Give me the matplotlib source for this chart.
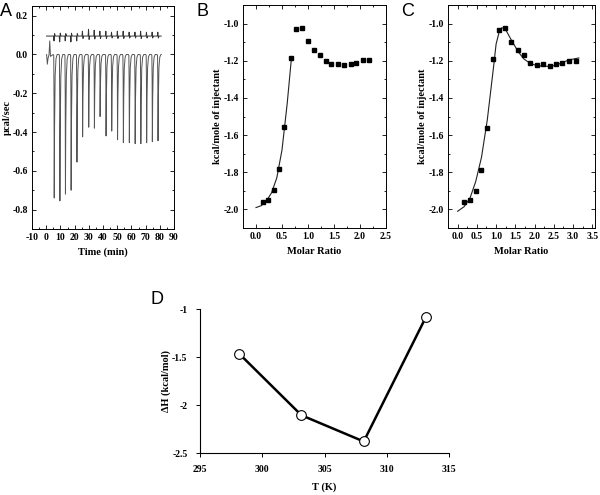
import numpy as np
import matplotlib
matplotlib.use("Agg")
import matplotlib.pyplot as plt
from matplotlib.ticker import MultipleLocator, FormatStrFormatter

plt.rcParams['font.family'] = ['Liberation Serif', 'DejaVu Serif']
plt.rcParams['font.weight'] = 'bold'
plt.rcParams['axes.labelweight'] = 'bold'
plt.rcParams['axes.unicode_minus'] = False

# ---- Panel A: raw thermogram (injection times, peak heights) ----
inj_times = [5.5, 9.5, 13.4, 17.4, 21.5, 25.5, 29.8, 33.8, 37.8, 42.0,
             46.0, 50.1, 54.2, 58.4, 62.5, 66.5, 70.6, 74.6, 78.6]
inj_depth = [-0.74, -0.755, -0.72, -0.70, -0.555, -0.425, -0.375, -0.38, -0.32, -0.42,
             -0.395, -0.44, -0.455, -0.455, -0.46, -0.46, -0.455, -0.45, -0.445]
ref_dev = [-0.025, -0.03, -0.025, -0.03, -0.025, 0.025, 0.035, 0.03, 0.025, 0.025,
           0.02, 0.025, 0.025, 0.02, 0.02, 0.025, 0.02, 0.02, 0.02]
ref_base = 0.095

# ---- Panel B ----
b_ratio = [0.13, 0.23, 0.34, 0.44, 0.54, 0.68, 0.77, 0.88, 1.00, 1.12,
           1.23, 1.34, 1.45, 1.58, 1.69, 1.82, 1.93, 2.06, 2.18]
b_heat = [-1.962, -1.950, -1.897, -1.783, -1.559, -1.186, -1.029, -1.022, -1.094, -1.141,
          -1.168, -1.204, -1.219, -1.217, -1.224, -1.217, -1.210, -1.197, -1.197]
b_fit_x = [0.0, 0.1, 0.2, 0.3, 0.4, 0.5, 0.6, 0.68]
b_fit_y = [-1.99, -1.98, -1.955, -1.91, -1.83, -1.68, -1.43, -1.19]

# ---- Panel C ----
c_ratio = [0.17, 0.32, 0.47, 0.62, 0.77, 0.93, 1.08, 1.24, 1.40, 1.57,
           1.72, 1.89, 2.05, 2.22, 2.39, 2.55, 2.72, 2.90, 3.08]
c_heat = [-1.962, -1.950, -1.899, -1.786, -1.563, -1.190, -1.034, -1.025, -1.097, -1.140,
          -1.170, -1.210, -1.222, -1.220, -1.227, -1.220, -1.214, -1.200, -1.200]
c_fit_x = [0.0, 0.17, 0.32, 0.47, 0.62, 0.77, 0.93, 1.00, 1.08, 1.15, 1.24, 1.40, 1.57,
           1.72, 1.89, 2.05, 2.22, 2.39, 2.55, 2.72, 2.90, 3.15]
c_fit_y = [-2.01, -1.985, -1.94, -1.85, -1.72, -1.52, -1.24, -1.11, -1.045, -1.022, -1.03,
           -1.09, -1.15, -1.19, -1.215, -1.225, -1.23, -1.23, -1.225, -1.21, -1.195, -1.185]

# ---- Panel D ----
temps = [298.15, 303.15, 308.15, 313.15]
dH = [-1.466, -2.107, -2.38, -1.083]

fig = plt.figure(figsize=(6, 4.95), dpi=100)
W, H = 600, 495


def add_ax(l, t, r, b):
    return fig.add_axes([l / W, 1 - b / H, (r - l) / W, (b - t) / H])


def bold_ticks(ax):
    for lab in ax.get_xticklabels() + ax.get_yticklabels():
        lab.set_fontweight('bold')


def style_box(ax):
    ax.tick_params(which='both', direction='in', top=True, right=True,
                   labelsize=7, width=0.6, pad=3)
    ax.tick_params(which='major', length=3)
    ax.tick_params(which='minor', length=1.5)
    for s in ax.spines.values():
        s.set_linewidth(0.7)


# A
axA = add_ax(32, 6, 174, 229)
tA, yA = [0.3, 0.8, 1.3, 2.0, 2.5, 3.0], [0.0, -0.05, -0.02, 0.0, 0.07, -0.01]
tR, yR = [0.2], [ref_base]
for t, d, dv in zip(inj_times, inj_depth, ref_dev):
    tA += [t - 0.6, t - 0.2, t, t + 0.15, t + 0.4, t + 0.8, t + 1.4, t + 2.2]
    yA += [0.0, -0.004, d * 0.3, d, d * 0.5, d * 0.15, d * 0.03, 0.0]
    tR += [t - 0.3, t, t + 0.4, t + 0.9]
    yR += [ref_base, ref_base + dv, ref_base - dv * 0.5, ref_base]
tA.append(81)
yA.append(0.0)
tR.append(81)
yR.append(ref_base)
axA.plot(tA, yA, color='#555555', lw=0.7)
axA.plot(tR, yR, color='#333333', lw=0.7)
axA.set_xlim(-10, 90)
axA.set_ylim(-0.9, 0.25)
axA.xaxis.set_major_locator(MultipleLocator(10))
axA.xaxis.set_minor_locator(MultipleLocator(5))
axA.yaxis.set_major_locator(MultipleLocator(0.2))
axA.yaxis.set_minor_locator(MultipleLocator(0.1))
axA.yaxis.set_major_formatter(FormatStrFormatter('%.1f'))
style_box(axA)
bold_ticks(axA)
axA.set_xlabel('Time (min)', fontsize=7.5, labelpad=4)
axA.set_ylabel('µcal/sec', fontsize=7.5, labelpad=0)

# B and C
for l, r, xs, ys, fx, fy, xmax, tag in [
        (243, 386, b_ratio, b_heat, b_fit_x, b_fit_y, 2.5, 'B'),
        (448, 595, c_ratio, c_heat, c_fit_x, c_fit_y, 3.57, 'C')]:
    ax = add_ax(l, 5, r, 228)
    ax.plot(fx, fy, color='#222222', lw=0.8)
    ax.plot(xs, ys, 's', color='black', ms=3)
    ax.set_xlim(-0.25, xmax)
    ax.set_ylim(-2.1, -0.9)
    ax.xaxis.set_major_locator(MultipleLocator(0.5))
    ax.xaxis.set_minor_locator(MultipleLocator(0.25))
    ax.yaxis.set_major_locator(MultipleLocator(0.2))
    ax.yaxis.set_minor_locator(MultipleLocator(0.1))
    ax.xaxis.set_major_formatter(FormatStrFormatter('%.1f'))
    ax.yaxis.set_major_formatter(FormatStrFormatter('%.1f'))
    style_box(ax)
    bold_ticks(ax)
    ax.set_xlabel('Molar Ratio', fontsize=7.5, labelpad=4)
    ax.set_ylabel('kcal/mole of injectant', fontsize=7.5, labelpad=1)

# D
axD = add_ax(200, 309, 449, 453)
axD.plot(temps, dH, '-o', color='black', lw=1.8, ms=7,
         markerfacecolor='white', markeredgecolor='black', markeredgewidth=0.8)
axD.set_xlim(295, 315)
axD.set_ylim(-2.5, -1)
axD.set_xticks([295, 300, 305, 310, 315])
axD.set_yticks([-1, -1.5, -2, -2.5])
axD.yaxis.set_major_formatter(FormatStrFormatter('%g'))
axD.spines['top'].set_visible(False)
axD.spines['right'].set_visible(False)
for s in ('left', 'bottom'):
    axD.spines[s].set_linewidth(0.8)
axD.tick_params(direction='out', labelsize=7, length=3, width=0.7, pad=6)
bold_ticks(axD)
axD.set_xlabel('T (K)', fontsize=7.5, labelpad=6)
axD.set_ylabel('ΔH (kcal/mol)', fontsize=7.5, labelpad=1)

# panel letters
for x, y, s in [(6, 12, 'A'), (203, 12, 'B'), (408, 12, 'C'), (157, 300, 'D')]:
    fig.text(x / W, 1 - y / H, s, family='Liberation Sans', fontweight='normal',
             fontsize=13, ha='center', va='center')

fig.savefig('out.png', dpi=100)
